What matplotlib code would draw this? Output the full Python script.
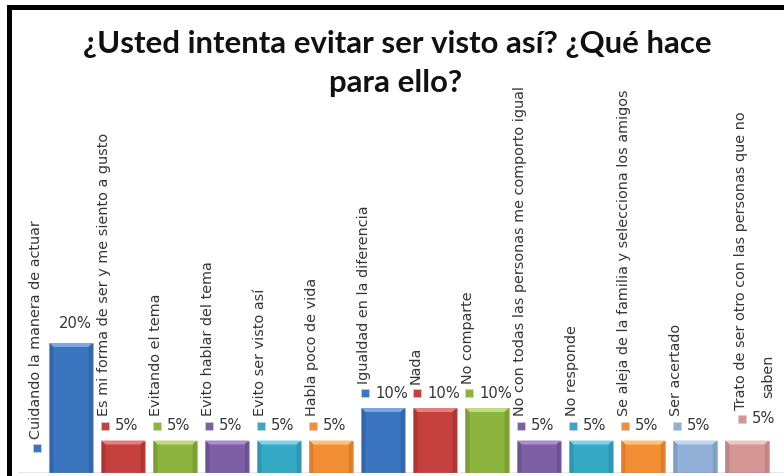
import matplotlib
matplotlib.use("Agg")
import matplotlib.pyplot as plt
from matplotlib.transforms import offset_copy
from matplotlib.patches import Polygon, Rectangle

title = "¿Usted intenta evitar ser visto así? ¿Qué hace\npara ello?"
categories = [
    "Cuidando la manera de actuar",
    "Es mi forma de ser y me siento a gusto",
    "Evitando el tema",
    "Evito hablar del tema",
    "Evito ser visto así",
    "Habla poco de vida",
    "Igualdad en la diferencia",
    "Nada",
    "No comparte",
    "No con todas las personas me comporto igual",
    "No responde",
    "Se aleja de la familia y selecciona los amigos",
    "Ser acertado",
    "Trato de ser otro con las personas que no\nsaben",
]
values = [20, 5, 5, 5, 5, 5, 10, 10, 10, 5, 5, 5, 5, 5]
value_labels = [f"{v}%" for v in values]

base_colors = ["#3B74BF", "#C3403C", "#8DB43E", "#7D5FA6", "#36A9C6", "#F28F35",
               "#3B74BF", "#C3403C", "#8DB43E", "#7D5FA6", "#36A9C6", "#F28F35",
               "#93B0D8", "#D59696"]
top_colors = ["#7AA8E2", "#E57E7A", "#BFDA80", "#A98DD0", "#7FD4EA", "#FFC27E",
              "#7AA8E2", "#E57E7A", "#BFDA80", "#A98DD0", "#7FD4EA", "#FFC27E",
              "#C3D6F0", "#F0C4C4"]
side_colors = ["#2E5E9E", "#9E302D", "#6F9130", "#624987", "#2A8AA2", "#D07428",
               "#2E5E9E", "#9E302D", "#6F9130", "#624987", "#2A8AA2", "#D07428",
               "#7893B8", "#B57A7A"]

W, H = 784, 476
DPI = 100
fig = plt.figure(figsize=(W / DPI, H / DPI), dpi=DPI)
fig.patch.set_facecolor("white")

ax_left, ax_bottom, ax_top = 18, 3, 100  # pixels
ax = fig.add_axes([ax_left / W, ax_bottom / H, 1 - ax_left / W, (H - ax_top - ax_bottom) / H])
px_per_unit_y = 6.5
ax.set_ylim(0, (H - ax_top - ax_bottom) / px_per_unit_y)
ax.set_xlim(-1.02, 13.71)
ax.axis("off")

n = len(categories)
xs = list(range(n))
bw = 0.83
ax.bar(xs, values, width=bw, color=base_colors, edgecolor="#B0B0B0", linewidth=0.6, zorder=2)

# bevel effect
sh = 4 / px_per_unit_y
sw = 4 / 52.0
for x, v, tc, sc in zip(xs, values, top_colors, side_colors):
    l, r = x - bw / 2, x + bw / 2
    ax.add_patch(Polygon([(l, v), (r, v), (r - sw, v - sh), (l + sw, v - sh)],
                         closed=True, facecolor=tc, edgecolor="none", zorder=3))
    ax.add_patch(Polygon([(l, v), (l + sw, v - sh), (l + sw, 0), (l, 0)],
                         closed=True, facecolor=sc, edgecolor="none", alpha=0.6, zorder=3))
    ax.add_patch(Polygon([(r, v), (r - sw, v - sh), (r - sw, 0), (r, 0)],
                         closed=True, facecolor=sc, edgecolor="none", alpha=0.6, zorder=3))

# baseline axis
ax.axhline(0, color="#8C8C8C", linewidth=1.0, zorder=4)

txt_color = "#353535"
fs = 10.4
fs_val = 10.6


def off(dx, dy):
    return offset_copy(ax.transData, fig=fig, x=dx, y=dy, units="dots")


for i, (c, v, vl, col) in enumerate(zip(categories, values, value_labels, base_colors)):
    lines = c.split("\n")
    if i == 0:
        sq_dx, sq_dy, ybase = -34, 25, 0
        ax.text(i, v, vl, transform=off(4, 19), ha="center", va="center",
                fontsize=fs_val, color=txt_color)
    else:
        ybase = v
        if len(lines) > 1:
            sq_dx, sq_dy = -5, 22
        else:
            sq_dx, sq_dy = -18, 15
        ax.text(i, v, vl, transform=off(sq_dx + 10, sq_dy), ha="left", va="center",
                fontsize=fs_val, color=txt_color)
    ax.plot([i], [ybase], marker="s", markersize=6.3, color=col,
            markeredgecolor="#D0D0D0", markeredgewidth=0.5,
            transform=off(sq_dx, sq_dy), zorder=5)
    for k, line in enumerate(lines):
        ax.text(i, ybase, line, transform=off(sq_dx - 1 + 27 * k, sq_dy + 9 + 12 * k),
                rotation=90, ha="center", va="bottom", fontsize=fs, color=txt_color)

# title
fig.text(397 / W, 1 - 53 / H, title.split("\n")[0], ha="center", va="baseline",
         fontsize=22.4, fontweight="bold", family="Lato", color="#111111")
fig.text(396 / W, 1 - 92 / H, title.split("\n")[1], ha="center", va="baseline",
         fontsize=22.4, fontweight="bold", family="Lato", color="#111111")

# frame lines (left and top)
fig.add_artist(Rectangle((7 / W, 0), 5 / W, 1 - 5 / H, transform=fig.transFigure,
                         facecolor="black", edgecolor="none"))
fig.add_artist(Rectangle((7 / W, 1 - 10 / H), 1 - 7 / W, 5 / H, transform=fig.transFigure,
                         facecolor="black", edgecolor="none"))

fig.savefig("out.png", dpi=DPI)
